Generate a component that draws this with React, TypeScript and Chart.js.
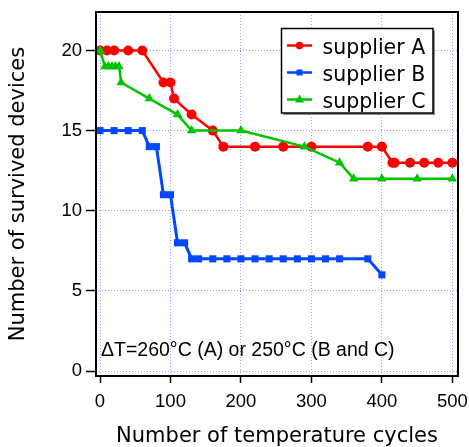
import React, { useEffect, useRef } from 'react';
import { Chart, registerables } from 'chart.js';

Chart.register(...registerables);

// ---- data ----
const cyclesA = [0, 10, 20, 40, 60, 90, 100, 105, 130, 160, 175, 220, 260, 300, 380, 400, 415, 418, 440, 460, 480, 500];
const survivedA = [20, 20, 20, 20, 20, 18, 18, 17, 16, 15, 14, 14, 14, 14, 14, 14, 13, 13, 13, 13, 13, 13];

const cyclesB = [0, 20, 40, 60, 70, 80, 90, 100, 110, 120, 130, 140, 160, 180, 200, 220, 240, 260, 280, 300, 320, 340, 380, 400];
const survivedB = [15, 15, 15, 15, 14, 14, 11, 11, 8, 8, 7, 7, 7, 7, 7, 7, 7, 7, 7, 7, 7, 7, 7, 6];

const cyclesC = [0, 7, 12, 17, 22, 27, 30, 70, 110, 130, 200, 290, 340, 360, 400, 450, 500];
const survivedC = [20, 19, 19, 19, 19, 19, 18, 17, 16, 15, 15, 14, 13, 12, 12, 12, 12];

const seriesLabels = ['supplier A', 'supplier B', 'supplier C'];
const seriesColors = ['#ff0000', '#0047ff', '#00c400'];
const xTickValues = [0, 100, 200, 300, 400, 500];
const yTickValues = [0, 5, 10, 15, 20];
const xTitle = 'Number of temperature cycles';
const yTitle = 'Number of survived devices';
const noteText = 'ΔT=260°C (A) or 250°C (B and C)';

const toPoints = (xs: number[], ys: number[]) => xs.map((x, i) => ({ x, y: ys[i] }));

function drawMarker(ctx: CanvasRenderingContext2D, kind: number, x: number, y: number, color: string) {
  ctx.fillStyle = color;
  ctx.beginPath();
  if (kind === 0) {
    ctx.arc(x, y, 3.8, 0, Math.PI * 2);
  } else if (kind === 1) {
    ctx.rect(x - 3, y - 3, 6, 6);
  } else {
    ctx.moveTo(x, y - 5);
    ctx.lineTo(x + 4.5, y + 3);
    ctx.lineTo(x - 4.5, y + 3);
    ctx.closePath();
  }
  ctx.fill();
}

const zeroPadding = (s: any) => {
  s.paddingLeft = 0;
  s.paddingRight = 0;
  s.paddingTop = 0;
  s.paddingBottom = 0;
};

export default function App() {
  const ref = useRef<HTMLCanvasElement>(null);

  useEffect(() => {
    document.body.style.margin = '0';
    const canvas = ref.current;
    if (!canvas) return;

    const overlay = {
      id: 'overlay',
      afterDatasetsDraw(chart: any) {
        const ctx: CanvasRenderingContext2D = chart.ctx;
        const a = chart.chartArea;
        ctx.save();
        // frame
        ctx.strokeStyle = '#000';
        ctx.lineWidth = 2;
        ctx.strokeRect(a.left, a.top, a.right - a.left, a.bottom - a.top);

        // note
        ctx.fillStyle = '#000';
        ctx.font = '19.5px "Liberation Sans", Arial, sans-serif';
        ctx.textBaseline = 'alphabetic';
        ctx.textAlign = 'left';
        ctx.fillText(noteText, 101, 356);

        // legend
        const bx = 281.5, by = 28.5, bw = 151.5, bh = 84.5;
        ctx.fillStyle = '#8c8c8c';
        ctx.fillRect(bx + 2, by + 2, bw, bh);
        ctx.fillStyle = '#fff';
        ctx.fillRect(bx, by, bw, bh);
        ctx.strokeStyle = '#000';
        ctx.lineWidth = 1.5;
        ctx.strokeRect(bx, by, bw, bh);
        ctx.font = '20.5px "DejaVu Sans", sans-serif';
        chart.data.datasets.forEach((ds: any, i: number) => {
          const ly = 45.5 + 27 * i;
          ctx.strokeStyle = ds.borderColor;
          ctx.lineWidth = 2.5;
          ctx.beginPath();
          ctx.moveTo(287, ly);
          ctx.lineTo(312, ly);
          ctx.stroke();
          drawMarker(ctx, i, 299.5, ly, ds.borderColor);
          ctx.fillStyle = '#000';
          ctx.fillText(ds.label, 322.5, 54 + 27 * i);
        });
        ctx.restore();
      },
    };

    const gridColor = 'rgba(120,120,255,0.75)';
    const tickFont = { family: '"Liberation Sans", Arial, sans-serif', size: 18.5 };
    const titleFont = { family: '"DejaVu Sans", sans-serif', size: 21 };

    const chart = new Chart(canvas, {
      type: 'line',
      data: {
        datasets: [
          {
            label: seriesLabels[0],
            data: toPoints(cyclesA, survivedA),
            borderColor: seriesColors[0],
            backgroundColor: seriesColors[0],
            borderWidth: 2.5,
            pointStyle: 'circle',
            pointRadius: 5,
            pointBorderWidth: 0,
            order: 3,
          },
          {
            label: seriesLabels[1],
            data: toPoints(cyclesB, survivedB),
            borderColor: seriesColors[1],
            backgroundColor: seriesColors[1],
            borderWidth: 3,
            pointStyle: 'rect',
            pointRadius: 5,
            pointBorderWidth: 0,
            order: 2,
          },
          {
            label: seriesLabels[2],
            data: toPoints(cyclesC, survivedC),
            borderColor: seriesColors[2],
            backgroundColor: seriesColors[2],
            borderWidth: 2.5,
            pointStyle: 'triangle',
            pointRadius: 5.5,
            pointBorderWidth: 0,
            order: 1,
          },
        ],
      },
      options: {
        animation: false,
        responsive: false,
        devicePixelRatio: 1,
        layout: { padding: { top: 12, right: 11, left: 0, bottom: 0 } },
        plugins: { legend: { display: false }, tooltip: { enabled: false } },
        scales: {
          x: {
            type: 'linear',
            min: -5.7,
            max: 508,
            afterBuildTicks: (s: any) => {
              s.ticks = xTickValues.map((v) => ({ value: v }));
            },
            afterFit: (s: any) => {
              s.height = 71;
              zeroPadding(s);
            },
            grid: {
              color: gridColor,
              lineWidth: 1,
              drawTicks: true,
              tickLength: 7,
              tickWidth: 1.5,
              tickColor: '#000',
            },
            border: { display: false, dash: [1, 2] },
            ticks: { color: '#000', font: tickFont, padding: 8, maxRotation: 0, autoSkip: false },
            title: { display: true, text: xTitle, color: '#000', font: titleFont, padding: { top: 0, bottom: -2 } },
          },
          y: {
            type: 'linear',
            min: -0.31,
            max: 22.4,
            afterBuildTicks: (s: any) => {
              s.ticks = yTickValues.map((v) => ({ value: v }));
            },
            afterFit: (s: any) => {
              s.width = 96;
              zeroPadding(s);
            },
            grid: {
              color: gridColor,
              lineWidth: 1,
              drawTicks: true,
              tickLength: 10,
              tickWidth: 1.5,
              tickColor: '#000',
            },
            border: { display: false, dash: [1, 2] },
            ticks: { color: '#000', font: tickFont, padding: 4, autoSkip: false },
            title: { display: true, text: yTitle, color: '#000', font: titleFont, padding: { top: 6, bottom: 0 } },
          },
        },
      },
      plugins: [overlay],
    } as any);

    return () => chart.destroy();
  }, []);

  return (
    <div style={{ width: 469, height: 447 }}>
      <canvas ref={ref} width={469} height={447} style={{ display: 'block', width: 469, height: 447 }} />
    </div>
  );
}
